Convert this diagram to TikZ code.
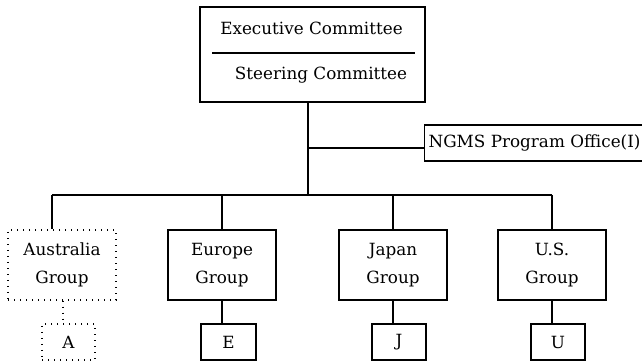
\documentclass[tikz,border=0pt]{standalone}
\usepackage{fontspec}
\setmainfont{DejaVu Serif}
\begin{document}
\begin{tikzpicture}[x=1pt,y=1pt, line width=1.2pt,
  box/.style={draw, rectangle, inner sep=0pt, align=center, font=\fontsize{16.8}{28}\selectfont},
  dotbox/.style={box, dash pattern=on 1.4pt off 4.6pt},
  dotline/.style={dash pattern=on 1.4pt off 4.6pt},
  txt/.style={font=\fontsize{16.8}{22}\selectfont, inner sep=0pt}]
\useasboundingbox (0,0) rectangle (642,361);
% top box
\node[box, minimum width=225, minimum height=95] (top) at (312.5,306.5) {};
\node[txt] (exec) at (311.5,333) {Executive Committee};
\node[txt] (steer) at (321,286) {Steering Committee};
\coordinate (dl) at (212,308);
\coordinate (dr) at (415,308);
\draw (dl) -- (dr);
% program office
\node[box, anchor=west, minimum height=36, minimum width=230] (ngms) at (424,218) {};
\node[txt, anchor=west] (ngmst) at (428,218) {NGMS Program Office(I)};
% trunk and bus
\coordinate (trunk) at (308,166);
\coordinate (br) at (308,213);
\draw (top.south -| trunk) -- (trunk);
\draw (br) -- (ngms.west |- br);
\coordinate (busl) at (52,166);
\coordinate (busr) at (552,166);
\draw (busl) -- (busr);
% groups
\node[dotbox, minimum width=108, minimum height=70] (aus) at (62,96) {Australia\\Group};
\node[box, minimum width=108, minimum height=70] (eur) at (222,96) {Europe\\Group};
\node[box, minimum width=108, minimum height=70] (jap) at (393,96) {Japan\\Group};
\node[box, minimum width=108, minimum height=70] (us) at (552,96) {U.S.\\Group};
\draw (busl) -- (aus.north -| busl);
\draw (eur.north |- busl) -- (eur.north);
\draw (jap.north |- busl) -- (jap.north);
\draw (us.north |- busl) -- (us.north);
% small boxes
\node[dotbox, minimum width=53, minimum height=36] (a) at (68.5,19) {A};
\node[box, minimum width=55, minimum height=36] (e) at (228.5,19) {E};
\node[box, minimum width=54, minimum height=36] (j) at (399,19) {J};
\node[box, minimum width=54, minimum height=36] (u) at (558,19) {U};
\coordinate (ax) at (63,0);
\draw[dotline] (aus.south -| ax) -- (a.north -| ax);
\draw (eur.south) -- (eur.south |- e.north);
\draw (jap.south) -- (jap.south |- j.north);
\draw (us.south) -- (us.south |- u.north);
\end{tikzpicture}
\end{document}
